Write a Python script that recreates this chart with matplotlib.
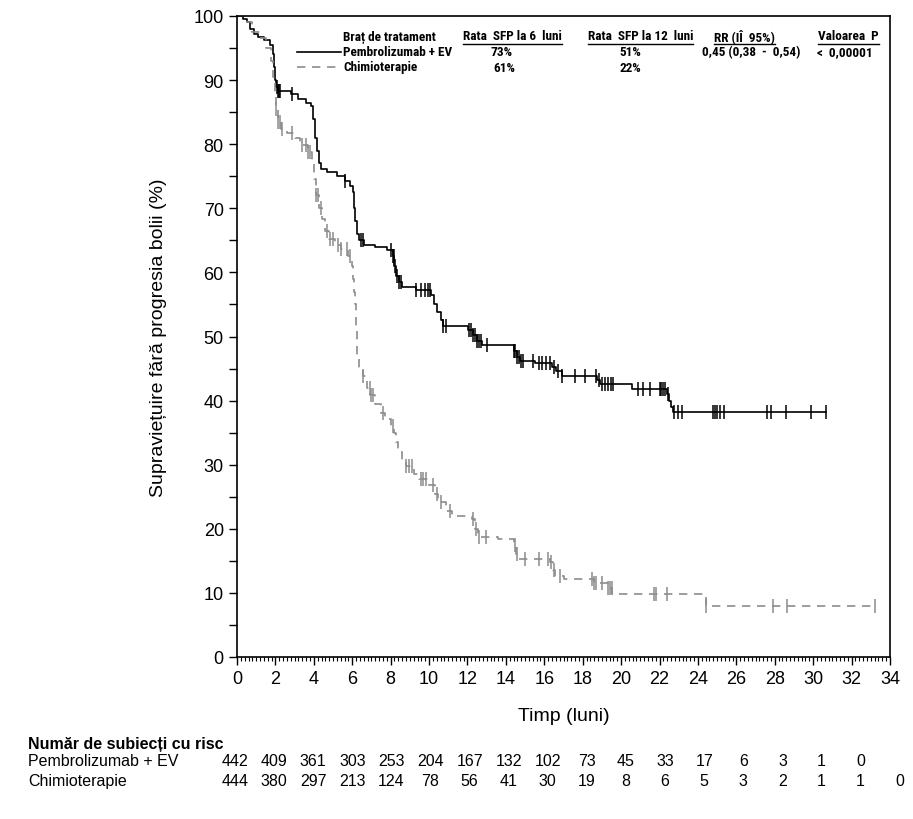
import numpy as np
import matplotlib
matplotlib.use("Agg")
import matplotlib.pyplot as plt
from matplotlib.lines import Line2D

# Kaplan-Meier step data (time in months, survival in %)
pembro_t = [0, 0.3, 0.5, 0.7, 0.9, 1.1, 1.4, 1.7, 1.85, 1.95, 2.0, 2.05, 2.15,
            2.8, 3.2, 3.6, 3.85, 3.95, 4.05, 4.15, 4.25, 4.35, 4.7, 5.2, 5.6,
            5.9, 6.05, 6.1, 6.15, 6.25, 6.35, 6.6, 7.2, 7.8, 8.1, 8.2, 8.3,
            8.45, 8.6, 9.3, 10.1, 10.25, 10.4, 10.6, 10.7, 12.05, 12.3, 12.5,
            12.75, 14.4, 14.6, 14.75, 15.5, 16.4, 16.6, 16.9, 18.75, 18.9,
            20.55, 22.4, 22.5, 22.6, 22.7, 30.66]
pembro_s = [100, 99.5, 99, 98, 97.2, 96.8, 96.2, 95.5, 94, 92, 90, 89, 88.3,
            87.8, 87, 86.5, 86, 84, 81, 79, 77, 76.2, 75.6, 75, 74.3,
            73.5, 72.5, 70, 68, 66, 65, 64.3, 64, 63.5, 62.5, 61, 59.5,
            58.5, 57.7, 57.3, 56.5, 55, 53.8, 52.5, 51.7, 51.0, 50.2, 49.3,
            48.6, 47.8, 46.8, 46.2, 45.8, 45.2, 44.6, 43.9, 43.2, 42.6,
            41.8, 41.0, 40.0, 39.0, 38.2, 38.2]
pembro_cens = [2.1, 2.15, 2.2, 2.25, 2.85, 5.6, 6.45, 6.55, 8.0, 8.1, 8.15,
               8.25, 8.35, 8.45, 8.55, 9.3, 9.6, 9.8, 9.95, 10.05, 10.7, 10.9,
               12.1, 12.2, 12.3, 12.4, 12.5, 12.6, 12.7, 13.0, 14.4, 14.5,
               14.6, 14.7, 14.8, 14.9, 15.4, 15.7, 15.9, 16.1, 16.3, 16.5,
               16.7, 16.9, 17.6, 18.1, 18.7, 18.85, 19.0, 19.15, 19.3, 19.45,
               19.6, 20.9, 21.15, 21.5, 22.0, 22.1, 22.2, 22.3, 22.45, 22.75,
               22.95, 23.15, 24.8, 24.9, 25.0, 25.15, 25.35, 27.6, 27.8, 28.6,
               29.9, 30.66]

chemo_t = [0, 0.4, 0.8, 1.2, 1.5, 1.75, 1.9, 2.0, 2.05, 2.15, 2.3, 2.6, 3.0,
           3.3, 3.7, 3.9, 4.0, 4.1, 4.25, 4.4, 4.6, 4.8, 5.1, 5.4, 5.8, 6.0,
           6.05, 6.1, 6.15, 6.2, 6.23, 6.35, 6.55, 6.75, 6.93, 7.2, 7.5, 7.7,
           8.0, 8.2, 8.3, 8.4, 8.6, 8.8, 9.2, 9.5, 10.0, 10.3, 10.45, 10.9,
           11.2, 12.25, 12.4, 12.55, 13.6, 14.4, 14.55, 14.65, 16.3, 16.45,
           16.55, 17.0, 18.6, 19.3, 19.55, 24.4, 33.2]
chemo_s = [100, 99, 97.5, 96.5, 95, 93, 90.5, 88, 85.5, 83.5, 82.4, 81.8, 81,
           79.8, 78.8, 77, 74.5, 72, 70, 68.3, 66.5, 65.2, 64.3, 63.6, 62.6, 61,
           59, 57, 55, 51, 47, 45, 43.9, 42, 40.8, 39.5, 38, 37.2,
           36, 35, 33.5, 32, 30.8, 29.8, 28.5, 27.8, 26.8, 25.5, 24.2, 22.8,
           22, 21.5, 20, 18.7, 18.4, 17.4, 16, 15.3, 14.8, 13.5,
           12.7, 12.2, 11.6, 10.8, 9.8, 7.9, 7.9]
chemo_cens = [2.05, 2.15, 2.25, 2.35, 2.85, 3.4, 3.6, 3.7, 3.8, 4.1, 4.2, 4.35,
              4.7, 4.85, 5.0, 5.25, 5.4, 5.75, 5.9, 6.55, 6.9, 7.0, 7.1, 7.6,
              8.1, 8.8, 8.95, 9.1, 9.6, 9.7, 9.85, 10.2, 10.4, 10.6, 11.1,
              12.3, 12.45, 12.6, 12.95, 14.5, 14.6, 15.0, 15.7, 16.2, 16.35,
              16.5, 16.8, 18.5, 18.6, 18.7, 19.0, 19.3, 19.4, 19.5, 21.7, 21.8,
              22.4, 24.4, 27.9, 28.65, 33.2]

risk_pembro = [442, 409, 361, 303, 253, 204, 167, 132, 102, 73, 45, 33, 17, 6, 3, 1, 0]
risk_chemo = [444, 380, 297, 213, 124, 78, 56, 41, 30, 19, 8, 6, 5, 3, 2, 1, 1, 0]

W, H = 913, 820
plt.rcParams['font.family'] = ['Liberation Sans', 'DejaVu Sans']
narrow = ['Roboto Condensed', 'DejaVu Sans']

fig = plt.figure(figsize=(W / 100, H / 100), dpi=100)
ax = fig.add_axes([237 / W, 1 - 658 / H, (890 - 237) / W, (658 - 17) / H])


def px(x, y):
    return x / W, 1 - y / H


def at(ts, ss, q):
    idx = np.searchsorted(ts, q, side='right') - 1
    return np.asarray(ss)[idx]


black = '#000000'
grey = '#8c8c8c'
ax.step(pembro_t, pembro_s, where='post', color=black, lw=1.2)
ax.step(chemo_t, chemo_s, where='post', color=grey, lw=1.2, ls=(0, (5, 4)))
ax.plot(pembro_cens, at(pembro_t, pembro_s, pembro_cens), '|', color=black,
        ms=10, mew=1.1)
ax.plot(chemo_cens, at(chemo_t, chemo_s, chemo_cens), '|', color=grey,
        ms=10, mew=1.1)

ax.set_xlim(0, 34)
ax.set_ylim(0, 100)
ax.set_xticks(range(0, 35, 2))
ax.set_xticks(np.arange(0, 34.01, 0.2), minor=True)
ax.set_yticks(range(0, 101, 10))
ax.set_yticks(range(5, 100, 10), minor=True)
ax.tick_params(axis='both', which='major', labelsize=13, length=6, width=1)
ax.tick_params(axis='x', which='minor', length=3, width=0.8)
ax.tick_params(axis='y', which='minor', length=6, width=1)
for s in ax.spines.values():
    s.set_linewidth(1.2)

ax.set_ylabel('Supraviețuire fără progresia bolii (%)', fontsize=14, labelpad=19)
ax.set_xlabel('Timp (luni)', fontsize=14, labelpad=14)

# legend / summary table at top
hdr = dict(fontsize=9.5, fontweight='bold', family=narrow, va='center')
fig.text(*px(343, 37), 'Braț de tratament', ha='left', **hdr)
heads = [(463, 'Rata  SFP la 6  luni'), (588, 'Rata  SFP la 12  luni'),
         (714, 'RR (IÎ  95%)'), (818, 'Valoarea  P')]
head_txt = [fig.text(*px(x0, 37), txt, ha='left', **hdr) for x0, txt in heads]
fig.canvas.draw()
r = fig.canvas.get_renderer()
for t in head_txt:
    bb = t.get_window_extent(r)
    fig.add_artist(Line2D([bb.x0 / W, bb.x1 / W], [px(0, 45)[1]] * 2,
                          color='black', lw=1.0))

fig.add_artist(Line2D([px(297, 0)[0], px(341, 0)[0]], [px(0, 53)[1]] * 2,
                      color=black, lw=1.2))
fig.add_artist(Line2D([px(297, 0)[0], px(338, 0)[0]], [px(0, 68)[1]] * 2,
                      color=grey, lw=1.2, ls=(0, (5, 4))))
fig.text(*px(343, 53), 'Pembrolizumab + EV', ha='left', **hdr)
fig.text(*px(343, 68), 'Chimioterapie', ha='left', **hdr)
fig.text(*px(502, 53), '73%', ha='center', **hdr)
fig.text(*px(504, 68), '61%', ha='center', **hdr)
fig.text(*px(630, 53), '51%', ha='center', **hdr)
fig.text(*px(630, 68), '22%', ha='center', **hdr)
fig.text(*px(751, 53), '0,45 (0,38  -  0,54)', ha='center', **hdr)
fig.text(*px(845, 53), '<  0,00001', ha='center', **hdr)

# number at risk
fig.text(*px(28, 745), 'Număr de subiecți cu risc', fontsize=11.5, fontweight='bold',
         va='center')
fig.text(*px(28, 762), 'Pembrolizumab + EV', fontsize=11.5, va='center')
fig.text(*px(28, 782), 'Chimioterapie', fontsize=11.5, va='center')
rk = dict(fontsize=11.5, va='center', ha='center')
for i, n in enumerate(risk_pembro):
    fig.text(*px(235 + 39.1 * i, 762), str(n), **rk)
for i, n in enumerate(risk_chemo):
    fig.text(*px(235 + 39.1 * i, 782), str(n), **rk)

fig.savefig('out.png', dpi=100)
